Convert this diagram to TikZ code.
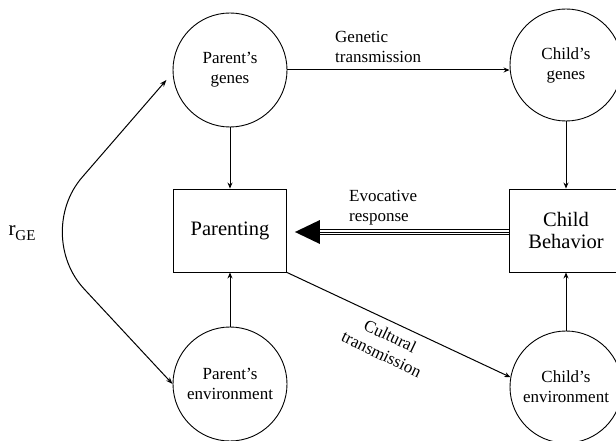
\documentclass[tikz,border=0pt]{standalone}
\usepackage{fontspec}
\setmainfont{Liberation Serif}
\usetikzlibrary{arrows.meta,calc}
\begin{document}
\begin{tikzpicture}[x=1pt,y=-1pt,
  circ/.style={circle,draw,line width=0.9pt,minimum size=114pt,inner sep=0pt,align=center,font=\fontsize{17}{20}\selectfont},
  boxnode/.style={rectangle,draw,line width=0.9pt,minimum width=113pt,minimum height=83pt,inner sep=0pt,align=center,font=\fontsize{20.5}{21.5}\selectfont},
  arr/.style={line width=1pt,-{Stealth[length=6pt,width=5pt]}},
  lab/.style={align=left,font=\fontsize{17}{20}\selectfont,inner sep=0pt}]
\useasboundingbox (0,0) rectangle (616,441);
\clip (0,0) rectangle (616,441);
\node[circ] (pg) at (230,70) {Parent's\\genes};
\node[circ,minimum size=112pt] (cg) at (566,65) {Child's\\genes};
\node[boxnode] (pa) at (230,230.5) {Parenting};
\node[boxnode,minimum width=114pt] (cb) at (566,230.5) {Child\\Behavior};
\node[circ] (pe) at (230,384) {Parent's\\environment};
\node[circ,minimum size=112pt] (ce) at (566,387) {Child's\\environment};
% vertical arrows
\draw[arr] (pg.south) -- (pa.north);
\draw[arr] (cg.south) -- (cb.north);
\draw[arr] (pe.north) -- (pa.south);
\draw[arr] (ce.north) -- (cb.south);
% genetic transmission
\draw[arr] (pg.east) -- (cg.west |- pg.east);
\node[lab,anchor=west] (gt) at (335,47) {Genetic\\transmission};
% cultural transmission
\draw[arr] (pa.south east) -- (ce.170);
\node[lab,align=center,rotate=-25.5] (ct) at (386,345) {Cultural\\transmission};
% evocative response
\coordinate (evtip) at ($(pa.east)+(8,1.5)$);
\coordinate (evbase) at ($(evtip)+(25,0)$);
\coordinate (cbw) at (cb.west |- evtip);
\fill (evtip) -- ($(evbase)+(0,-12)$) -- ($(evbase)+(0,12)$) -- cycle;
\draw[line width=0.8pt] ($(cbw)+(0,-2.6)$) -- ($(evbase)+(0,-2.6)$);
\draw[line width=0.8pt] (cbw) -- (evbase);
\draw[line width=0.8pt] ($(cbw)+(0,2.6)$) -- ($(evbase)+(0,2.6)$);
\node[lab,anchor=west] (er) at (349,208) {Evocative\\response};
% r_GE correlation
\coordinate (rt) at ($(pg.190)+(-7,0)$);
\coordinate (rc) at (33,234);
\draw[line width=1pt,{Stealth[length=7pt,width=5pt]}-{Stealth[length=7pt,width=5pt]},rounded corners=75pt] (rt) -- (rc) -- (pe.west);
\node[inner sep=0pt] (rge) at (22,233) {{\fontsize{21}{24}\selectfont r}{\fontsize{15}{18}\selectfont\raisebox{-5pt}{GE}}};
\end{tikzpicture}
\end{document}
